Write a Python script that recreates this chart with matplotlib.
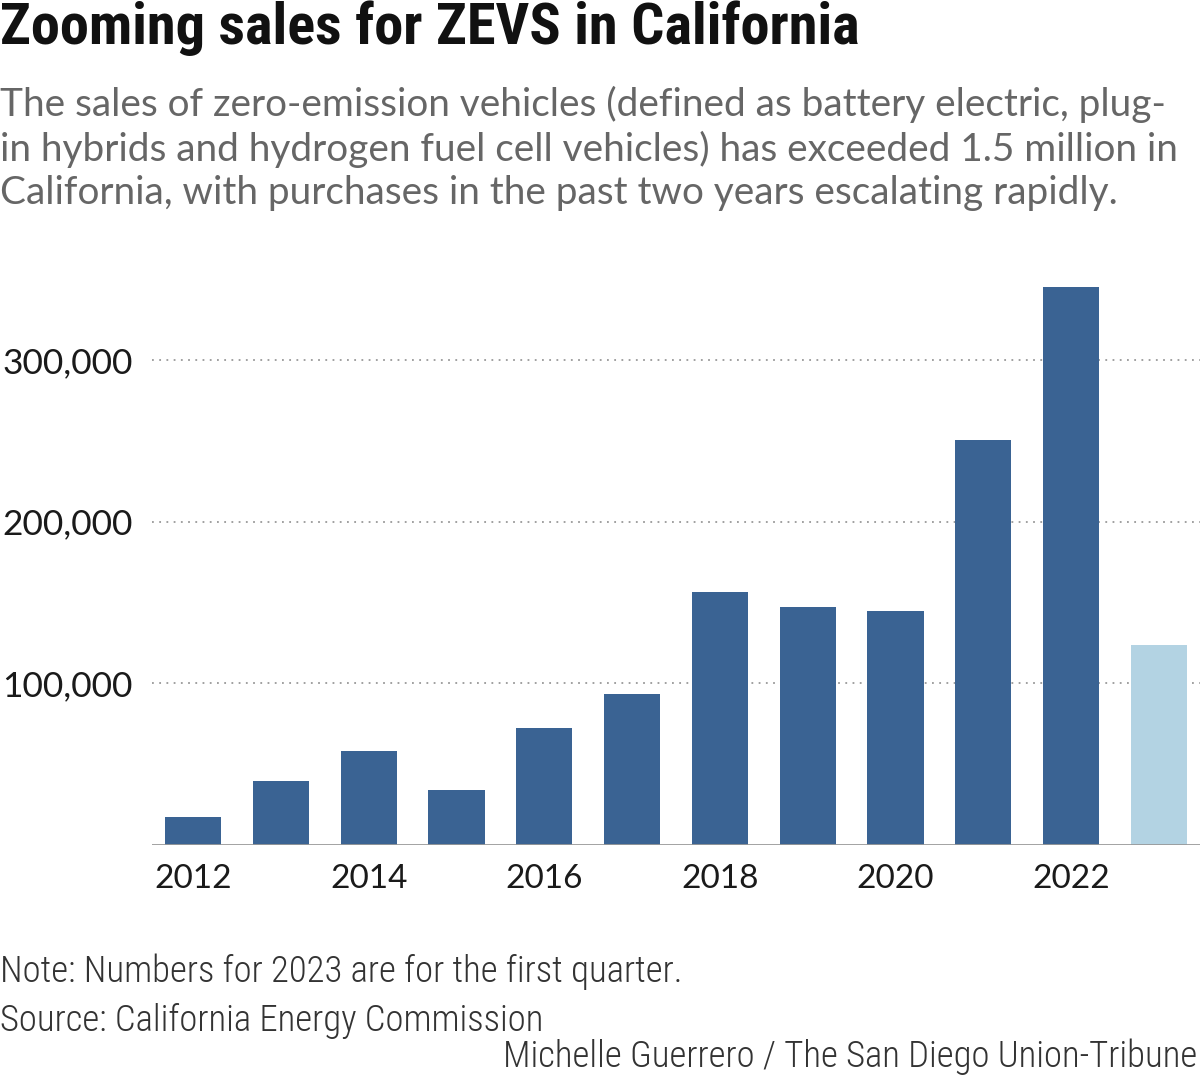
import matplotlib
matplotlib.use("Agg")
import matplotlib.pyplot as plt
from matplotlib.ticker import FuncFormatter
from matplotlib import font_manager

years = [2012, 2013, 2014, 2015, 2016, 2017, 2018, 2019, 2020, 2021, 2022, 2023]
sales = [17300, 39600, 58100, 34000, 72400, 93400, 156500, 147200, 144700, 250500, 345100, 123700]
partial = [False] * 11 + [True]
yticks = [100000, 200000, 300000]
xtick_years = [2012, 2014, 2016, 2018, 2020, 2022]

title = "Zooming sales for ZEVS in California"
subtitle = ("The sales of zero-emission vehicles (defined as battery electric, plug-\n"
            "in hybrids and hydrogen fuel cell vehicles) has exceeded 1.5 million in\n"
            "California, with purchases in the past two years escalating rapidly.")
note = "Note: Numbers for 2023 are for the first quarter."
source = "Source: California Energy Commission"
credit = "Michelle Guerrero / The San Diego Union-Tribune"

avail = {f.name for f in font_manager.fontManager.ttflist}

def pick(cands):
    for c in cands:
        if c in avail:
            return c
    return "DejaVu Sans"

narrow = pick(["Roboto Condensed", "Liberation Sans Narrow", "DejaVu Sans Condensed", "Roboto"])

W, H = 1200, 1076
fig = plt.figure(figsize=(W / 100, H / 100), dpi=100)
renderer = fig.canvas.get_renderer()

def fx(px):
    return px / W

def fy(py):
    return 1 - py / H

def fit(t, target_w, start):
    t.set_fontsize(start)
    w = t.get_window_extent(renderer=renderer).width
    t.set_fontsize(start * target_w / w)

ax_left, ax_right, ax_top, ax_bot = 152, 1200, 263, 845
ax = fig.add_axes([fx(ax_left), fy(ax_bot), fx(ax_right - ax_left), (ax_bot - ax_top) / H])

dark = "#3a6393"
light = "#b3d3e3"
colors = [light if p else dark for p in partial]
ax.bar(years, sales, width=0.64, color=colors, zorder=2)

ax.set_xlim(2011.53, 2023.47)
ax.set_ylim(0, 360000)
for t in yticks:
    ax.axhline(t, color="#999999", linestyle=(0, (1, 3)), linewidth=1.3, zorder=1)
ax.axhline(0, color="#999999", linewidth=2, zorder=3)

for s in ax.spines.values():
    s.set_visible(False)
ax.set_yticks(yticks)
ax.yaxis.set_major_formatter(FuncFormatter(lambda v, p: f"{int(v):,}"))
ax.set_xticks(xtick_years)
ax.set_xticklabels([str(y) for y in xtick_years])
ax.tick_params(axis="both", length=0, labelcolor="#1a1a1a")
ax.tick_params(axis="x", labelsize=24, pad=14)
ax.tick_params(axis="y", labelsize=25.5, pad=14)
for lab in ax.get_xticklabels() + ax.get_yticklabels():
    lab.set_family("Lato")

t_title = fig.text(fx(0), fy(44), title, fontweight="bold", family=narrow,
                   color="#111111", va="baseline", ha="left")
fit(t_title, 860, 40)
t_sub = fig.text(fx(0), fy(86), subtitle, family="Lato", color="#666666",
                 va="top", ha="left", linespacing=1.25)
fit(t_sub, 1176, 28)
t_note = fig.text(fx(0), fy(972), note, family=narrow, fontweight="light", color="#333333",
                  va="center", ha="left")
fit(t_note, 686, 24)
fs = t_note.get_fontsize()
fig.text(fx(0), fy(1021), source, fontsize=fs, family=narrow, fontweight="light",
         color="#333333", va="center", ha="left")
fig.text(fx(1197), fy(1057), credit, fontsize=fs, family=narrow, fontweight="light",
         color="#333333", va="center", ha="right")

fig.savefig("out.png", dpi=100)
